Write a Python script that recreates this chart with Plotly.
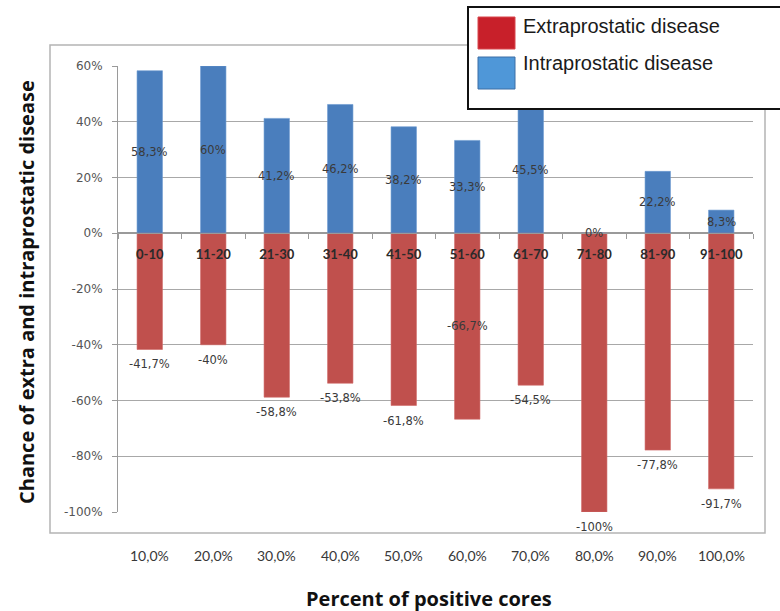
import plotly.graph_objects as go

categories = ["0-10", "11-20", "21-30", "31-40", "41-50", "51-60", "61-70", "71-80", "81-90", "91-100"]
bottom_labels = ["10,0%", "20,0%", "30,0%", "40,0%", "50,0%", "60,0%", "70,0%", "80,0%", "90,0%", "100,0%"]
intra = [58.3, 60, 41.2, 46.2, 38.2, 33.3, 45.5, 0, 22.2, 8.3]
extra = [-41.7, -40, -58.8, -53.8, -61.8, -66.7, -54.5, -100, -77.8, -91.7]
extra_centered = [False, False, False, False, False, True, False, False, False, False]
ytick_vals = [0.6, 0.4, 0.2, 0, -0.2, -0.4, -0.6, -0.8, -1.0]
ytick_text = ["60%", "40%", "20%", "0%", "-20%", "-40%", "-60%", "-80%", "-100%"]

W, H = 780, 611
ML, MR, MT, MB = 118, 27, 66, 99
PW, PH = W - ML - MR, H - MT - MB


def px(x):
    return (x - ML) / PW


def py(y):
    return (H - MB - y) / PH


def fmt(v):
    return f"{v:g}".replace(".", ",") + "%"


BLUE = "#4a7ebd"
RED = "#c0504d"
GRID = "#a8a8a8"
LABEL_FONT = dict(family="DejaVu Sans", size=11.5, color="#3a3a3a")

fig = go.Figure()
fig.add_trace(go.Bar(x=categories, y=[v / 100 for v in intra], marker=dict(color=BLUE, line=dict(color="#6a98d0", width=0.6)),
                     width=0.4, showlegend=False, name="Intraprostatic disease"))
fig.add_trace(go.Bar(x=categories, y=[v / 100 for v in extra], marker=dict(color=RED, line=dict(color="#d06a68", width=0.6)),
                     width=0.4, showlegend=False, name="Extraprostatic disease"))

annotations = []
for c, v in zip(categories, intra):
    annotations.append(dict(x=c, y=v / 200, xref="x", yref="y", text=fmt(v), showarrow=False, font=LABEL_FONT,
                            xanchor="center", yanchor="middle"))
for c, v, cen in zip(categories, extra, extra_centered):
    if cen:
        annotations.append(dict(x=c, y=v / 200, xref="x", yref="y", text=fmt(v), showarrow=False, font=LABEL_FONT,
                                xanchor="center", yanchor="middle"))
    else:
        annotations.append(dict(x=c, y=v / 100, xref="x", yref="y", text=fmt(v), showarrow=False, font=LABEL_FONT,
                                xanchor="center", yanchor="middle", yshift=-15))
for c, t in zip(categories, bottom_labels):
    annotations.append(dict(x=c, y=0, xref="x", yref="paper", text=t, showarrow=False, yshift=-43,
                            xanchor="center", yanchor="middle",
                            font=dict(family="Lato", size=14, color="#383838")))

TITLE_FONT = dict(family="Open Sans", size=20, color="#111", weight="bold")
annotations.append(dict(x=px(26), y=py(292), xref="paper", yref="paper", text="Chance of extra and intraprostatic disease",
                        textangle=-90, showarrow=False, font=TITLE_FONT, xanchor="center", yanchor="middle"))
annotations.append(dict(x=px(429), y=py(598), xref="paper", yref="paper", text="Percent of positive cores",
                        showarrow=False, font=TITLE_FONT, xanchor="center", yanchor="middle"))
LEG_FONT = dict(family="Liberation Sans", size=20, color="#1a1a1a")
annotations.append(dict(x=px(521), y=py(26), xref="paper", yref="paper", text="Extraprostatic disease", xanchor="left",
                        yanchor="middle", showarrow=False, font=LEG_FONT))
annotations.append(dict(x=px(521), y=py(63), xref="paper", yref="paper", text="Intraprostatic disease", xanchor="left",
                        yanchor="middle", showarrow=False, font=LEG_FONT))

shapes = [
    dict(type="rect", xref="paper", yref="paper", x0=px(50), x1=px(765), y0=py(533), y1=py(45),
         line=dict(color="#b4b4b4", width=1.5), layer="below"),
    dict(type="rect", xref="paper", yref="paper", x0=px(468), x1=px(800), y0=py(109), y1=py(7),
         line=dict(color="#111", width=2), fillcolor="white", layer="above"),
    dict(type="rect", xref="paper", yref="paper", x0=px(478), x1=px(515), y0=py(49), y1=py(17),
         line=dict(color="#d8474c", width=1), fillcolor="#c8202a", layer="above"),
    dict(type="rect", xref="paper", yref="paper", x0=px(478), x1=px(515), y0=py(89), y1=py(57),
         line=dict(color="#3c6ea6", width=1), fillcolor="#4f97d8", layer="above"),
]

fig.update_layout(
    width=W, height=H, margin=dict(l=ML, r=MR, t=MT, b=MB),
    paper_bgcolor="white", plot_bgcolor="white",
    barmode="relative",
    annotations=annotations, shapes=shapes,
    xaxis=dict(type="category", categoryorder="array", categoryarray=categories,
               anchor="free", position=0.625, showline=True, linecolor="#9a9a9a", linewidth=1,
               ticks="outside", tickson="boundaries", ticklen=5, tickcolor="#9a9a9a",
               tickfont=dict(family="Lato", size=13, color="#2a2a2a", weight="bold"), ticklabelstandoff=9,
               showgrid=False, range=[-0.5, 9.5]),
    yaxis=dict(range=[-1.0, 0.6], tickvals=ytick_vals, ticktext=ytick_text,
               showline=True, linecolor="#9a9a9a", ticks="outside", ticklen=5, tickcolor="#9a9a9a",
               showgrid=True, gridcolor=GRID, gridwidth=1, zeroline=True, zerolinecolor="#9a9a9a",
               tickfont=dict(family="DejaVu Sans", size=12, color="#555"), ticklabelstandoff=7),
)

fig.write_html("out.html")
